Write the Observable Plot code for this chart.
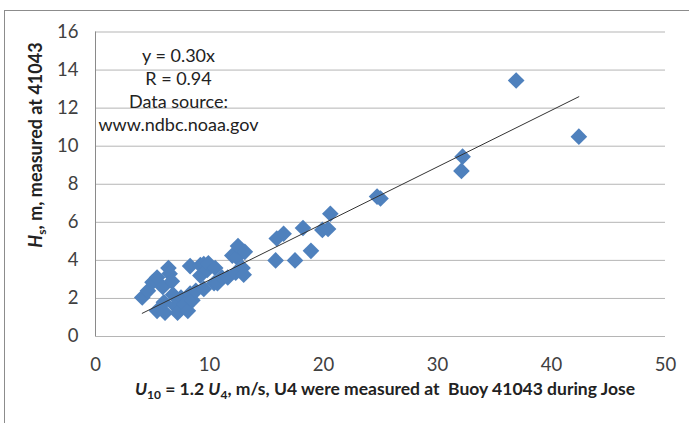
<!DOCTYPE html>
<html><head><meta charset="utf-8">
<script src="https://cdn.jsdelivr.net/npm/d3@7"></script>
<script src="https://cdn.jsdelivr.net/npm/@observablehq/plot@0.6"></script>
<style>
body{margin:0;background:#fff;}
#chart{position:relative;width:689px;height:423px;}
</style></head><body><div id="chart"></div>
<script>
const windU10 = [4.1, 4.6, 5.0, 5.4, 5.4, 5.9, 6.1, 6.0, 6.4, 6.5, 6.7, 6.8, 7.0, 7.2, 7.5, 7.8, 8.1, 8.3, 8.3, 8.5, 8.8, 9.2, 9.2, 9.5, 9.5, 9.8, 9.9, 10.4, 10.5, 10.7, 11.1, 11.6, 12.0, 12.3, 12.4, 12.5, 12.9, 13.0, 13.1, 15.8, 15.9, 16.5, 17.5, 18.2, 18.9, 19.9, 20.4, 20.6, 24.7, 25.0, 32.1, 32.2, 36.9, 42.4];
const waveHs  = [2.05, 2.4, 2.85, 3.1, 1.35, 2.6, 1.25, 1.8, 3.6, 3.3, 2.9, 2.2, 1.6, 1.25, 2.05, 1.7, 1.35, 3.7, 2.25, 1.9, 2.4, 3.2, 3.75, 2.5, 3.8, 3.5, 3.85, 2.8, 3.6, 2.8, 3.1, 3.1, 4.25, 3.35, 4.15, 4.75, 3.6, 3.25, 4.45, 4.0, 5.15, 5.4, 4.0, 5.7, 4.5, 5.6, 5.65, 6.45, 7.35, 7.25, 8.7, 9.45, 13.45, 10.5];
const xTicks = [0, 10, 20, 30, 40, 50];
const yTicks = [0, 2, 4, 6, 8, 10, 12, 14, 16];
const annotationLines = ["y = 0.30x", "R = 0.94", "Data source:", "www.ndbc.noaa.gov"];

const data = windU10.map((x, i) => ({x, y: waveHs[i]}));
const slope = d3.sum(data, d => d.x * d.y) / d3.sum(data, d => d.x * d.x);
const [xmin, xmax] = d3.extent(windU10);
const trend = [{x: xmin, y: slope * xmin}, {x: xmax, y: slope * xmax}];

const font = "Lato, 'Open Sans', sans-serif";
const svg = Plot.plot({
  width: 689, height: 423,
  marginLeft: 95, marginRight: 24, marginTop: 31.5, marginBottom: 87,
  style: {fontFamily: font, background: "#fff", overflow: "visible"},
  x: {domain: [0, 50]},
  y: {domain: [0, 16]},
  marks: [
    Plot.gridY(yTicks, {stroke: "#b5b5b5", strokeOpacity: 1}),
    Plot.ruleX([0], {stroke: "#8a8a8a"}),
    Plot.axisX(xTicks, {tickSize: 0, tickPadding: 21, fontSize: 18.5, fill: "#404040", label: null}),
    Plot.axisY(yTicks, {tickSize: 0, tickPadding: 17, fontSize: 18.5, fill: "#404040", label: null}),
    Plot.dot(data, {x: "x", y: "y", symbol: "diamond2", r: 7.5, fill: "#4F81BD", stroke: null}),
    Plot.line(trend, {x: "x", y: "y", stroke: "#333", strokeWidth: 1}),
    Plot.text([annotationLines.join("\n")], {frameAnchor: "top-left", dx: 83, dy: 14, textAnchor: "middle", lineAnchor: "top", fontSize: 18, lineHeight: 1.27, fill: "#222"})
  ]
});
document.getElementById("chart").appendChild(svg);

const s = d3.select(svg);
s.insert("rect", ":first-child").attr("x", 4.5).attr("y", 10.5).attr("width", 700).attr("height", 430)
  .attr("fill", "none").attr("stroke", "#8c8c8c");

const yt = s.append("text").attr("transform", "translate(42,145) rotate(-90)")
  .attr("text-anchor", "middle").attr("font-weight", "bold").attr("font-size", 18)
  .attr("font-family", font).attr("fill", "#222");
yt.append("tspan").attr("font-style", "italic").text("H");
yt.append("tspan").attr("font-size", 12).attr("dy", 4).text("s");
yt.append("tspan").attr("dy", -4).text(", m, measured at 41043");

const xt = s.append("text").attr("x", 385).attr("y", 395)
  .attr("text-anchor", "middle").attr("font-weight", "bold").attr("font-size", 17.5)
  .attr("font-family", font).attr("fill", "#222");
xt.append("tspan").attr("font-style", "italic").text("U");
xt.append("tspan").attr("font-size", 12).attr("dy", 4).text("10");
xt.append("tspan").attr("dy", -4).text(" = 1.2 ");
xt.append("tspan").attr("font-style", "italic").text("U");
xt.append("tspan").attr("font-size", 12).attr("dy", 4).text("4");
xt.append("tspan").attr("dy", -4).text(", m/s, U4 were measured at  Buoy 41043 during Jose");
</script></body></html>
